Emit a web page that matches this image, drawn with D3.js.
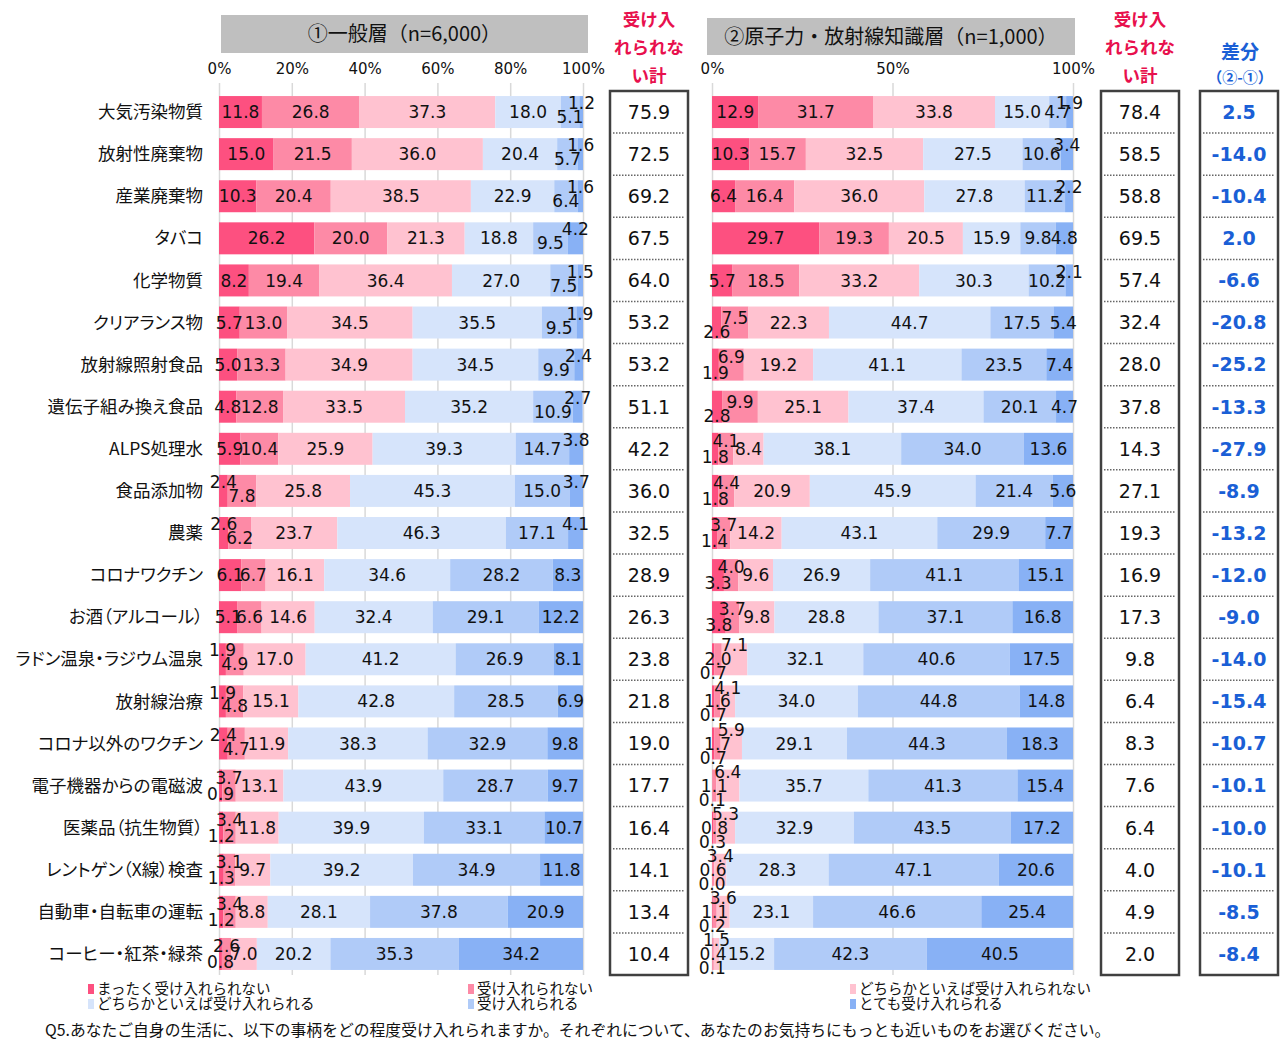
<!DOCTYPE html>
<html><head><meta charset="utf-8">
<script src="https://cdn.jsdelivr.net/npm/d3@7"></script>
<style>
body{margin:0;background:#fff;}
svg{display:block;}
.palt{font-feature-settings:"palt";}
</style></head>
<body>
<svg id="chart" width="1282" height="1042"></svg>
<script>
const categories = ["大気汚染物質","放射性廃棄物","産業廃棄物","タバコ","化学物質","クリアランス物","放射線照射食品","遺伝子組み換え食品","ALPS処理水","食品添加物","農薬","コロナワクチン","お酒（アルコール）","ラドン温泉・ラジウム温泉","放射線治療","コロナ以外のワクチン","電子機器からの電磁波","医薬品（抗生物質）","レントゲン（X線）検査","自動車・自転車の運転","コーヒー・紅茶・緑茶"];
const seriesNames = ["まったく受け入れられない","受け入れられない","どちらかといえば受け入れられない","どちらかといえば受け入れられる","受け入れられる","とても受け入れられる"];
const seriesColors = ["#fd5080","#fd8aa6","#ffc2d0","#d6e4fb","#b0cbf8","#88b1f5"];
const generalData = [
 [11.8,26.8,37.3,18.0,5.1,1.2],
 [15.0,21.5,36.0,20.4,5.7,1.6],
 [10.3,20.4,38.5,22.9,6.4,1.6],
 [26.2,20.0,21.3,18.8,9.5,4.2],
 [8.2,19.4,36.4,27.0,7.5,1.5],
 [5.7,13.0,34.5,35.5,9.5,1.9],
 [5.0,13.3,34.9,34.5,9.9,2.4],
 [4.8,12.8,33.5,35.2,10.9,2.7],
 [5.9,10.4,25.9,39.3,14.7,3.8],
 [2.4,7.8,25.8,45.3,15.0,3.7],
 [2.6,6.2,23.7,46.3,17.1,4.1],
 [6.1,6.7,16.1,34.6,28.2,8.3],
 [5.1,6.6,14.6,32.4,29.1,12.2],
 [1.9,4.9,17.0,41.2,26.9,8.1],
 [1.9,4.8,15.1,42.8,28.5,6.9],
 [2.4,4.7,11.9,38.3,32.9,9.8],
 [0.9,3.7,13.1,43.9,28.7,9.7],
 [1.2,3.4,11.8,39.9,33.1,10.7],
 [1.3,3.1,9.7,39.2,34.9,11.8],
 [1.2,3.4,8.8,28.1,37.8,20.9],
 [0.8,2.6,7.0,20.2,35.3,34.2]
];
const knowledgeData = [
 [12.9,31.7,33.8,15.0,4.7,1.9],
 [10.3,15.7,32.5,27.5,10.6,3.4],
 [6.4,16.4,36.0,27.8,11.2,2.2],
 [29.7,19.3,20.5,15.9,9.8,4.8],
 [5.7,18.5,33.2,30.3,10.2,2.1],
 [2.6,7.5,22.3,44.7,17.5,5.4],
 [1.9,6.9,19.2,41.1,23.5,7.4],
 [2.8,9.9,25.1,37.4,20.1,4.7],
 [1.8,4.1,8.4,38.1,34.0,13.6],
 [1.8,4.4,20.9,45.9,21.4,5.6],
 [1.4,3.7,14.2,43.1,29.9,7.7],
 [3.3,4.0,9.6,26.9,41.1,15.1],
 [3.8,3.7,9.8,28.8,37.1,16.8],
 [0.7,2.0,7.1,32.1,40.6,17.5],
 [0.7,1.6,4.1,34.0,44.8,14.8],
 [0.7,1.7,5.9,29.1,44.3,18.3],
 [0.1,1.1,6.4,35.7,41.3,15.4],
 [0.3,0.8,5.3,32.9,43.5,17.2],
 [0.0,0.6,3.4,28.3,47.1,20.6],
 [0.2,1.1,3.6,23.1,46.6,25.4],
 [0.1,0.4,1.5,15.2,42.3,40.5]
];
const generalTotals = [75.9,72.5,69.2,67.5,64.0,53.2,53.2,51.1,42.2,36.0,32.5,28.9,26.3,23.8,21.8,19.0,17.7,16.4,14.1,13.4,10.4];
const knowledgeTotals = [78.4,58.5,58.8,69.5,57.4,32.4,28.0,37.8,14.3,27.1,19.3,16.9,17.3,9.8,6.4,8.3,7.6,6.4,4.0,4.9,2.0];
const diffs = [2.5,-14.0,-10.4,2.0,-6.6,-20.8,-25.2,-13.3,-27.9,-8.9,-13.2,-12.0,-9.0,-14.0,-15.4,-10.7,-10.1,-10.0,-10.1,-8.5,-8.4];
const generalTicks = [0,20,40,60,80,100];
const knowledgeTicks = [0,50,100];
const panelTitles = ["①一般層（n=6,000）","②原子力・放射線知識層（n=1,000）"];

const svg = d3.select("#chart");
const NUM = "'DejaVu Sans', 'Noto Sans CJK JP', sans-serif";
const JP = "'Noto Sans CJK JP', sans-serif";
const yTop = 91, yBottom = 975;
const y = d3.scaleBand().domain(categories).range([yTop, yBottom]).paddingInner(0.24).paddingOuter(0.12);

// category labels
svg.append("g").selectAll("text").data(categories).join("text")
  .attr("class", "palt")
  .attr("x", 203).attr("y", d => y(d) + y.bandwidth()/2).attr("dy", "0.35em")
  .attr("text-anchor", "end").style("font-family", JP).style("font-size", "17.5px").attr("fill", "#111")
  .text(d => d);

function labelDy(vals, cfg) {
  const n = vals.length;
  const dy = vals.map(() => 0);
  const narrow = vals.map(v => v < 4.5);
  // extend left-side runs of tiny segments into the next small segment
  for (let i = 1; i < 3; i++) {
    if (!narrow[i] && narrow[i - 1] && vals[i] < cfg.extendLeft) narrow[i] = true;
  }
  let i = 0;
  while (i < n) {
    if (!narrow[i]) { i++; continue; }
    let j = i;
    while (j + 1 < n && narrow[j + 1] && ((j + 1 < 3) === (i < 3))) j++;
    const len = j - i + 1;
    const left = i < 3;
    if (len === 1) {
      const dir = left ? cfg.leftSingleDir : -1;
      dy[i] = dir * 9;
      const nb = left ? i + 1 : i - 1;
      const crowd = left ? cfg.crowdLeft : cfg.crowdRight;
      if (nb >= 0 && nb < n && !narrow[nb] && vals[nb] < crowd) dy[nb] = -dir * 5;
    } else if (len === 2) {
      dy[j] = -8; dy[i] = 8;
    } else {
      dy[j] = -14; dy[i] = 14;
      for (let k = i + 1; k < j; k++) dy[k] = 0;
    }
    i = j + 1;
  }
  return dy;
}

function drawPanel(data, x0, x1, ticks, title, box, cfg) {
  const x = d3.scaleLinear().domain([0, 100]).range([x0, x1]);
  svg.append("rect").attr("x", box[0]).attr("y", box[1]).attr("width", box[2] - box[0]).attr("height", box[3] - box[1]).attr("fill", "#bfbfbf");
  svg.append("text").attr("x", (box[0] + box[2]) / 2).attr("y", (box[1] + box[3]) / 2).attr("dy", "0.35em")
    .attr("text-anchor", "middle").style("font-family", JP).style("font-size", "20px").attr("fill", "#111").text(title);
  const ax = svg.append("g").attr("transform", `translate(0,83)`)
    .call(d3.axisTop(x).tickValues(ticks).tickFormat(d => d + "%").tickSize(-(yBottom - 83)).tickPadding(9));
  ax.select(".domain").remove();
  ax.selectAll(".tick line").attr("stroke", "#d9d9d9").attr("stroke-width", 1.5);
  ax.selectAll(".tick text").style("font-family", NUM).style("font-size", "15px").attr("fill", "#111");
  const rows = svg.append("g").selectAll("g").data(data).join("g")
    .attr("transform", (d, i) => `translate(0,${y(categories[i])})`);
  rows.each(function(vals) {
    const g = d3.select(this);
    const starts = d3.cumsum([0].concat(vals)).slice(0, vals.length);
    const segs = vals.map((v, k) => ({v, k, s: starts[k]}));
    g.selectAll("rect").data(segs).join("rect")
      .attr("x", d => x(d.s)).attr("y", 0)
      .attr("width", d => Math.max(0, x(Math.min(100, d.s + d.v)) - x(d.s)))
      .attr("height", y.bandwidth()).attr("fill", d => seriesColors[d.k]);
    const dys = labelDy(vals, cfg);
    g.selectAll("text").data(segs).join("text")
      .attr("x", d => x(d.s + d.v / 2)).attr("y", d => y.bandwidth() / 2 + dys[d.k]).attr("dy", "0.36em")
      .attr("text-anchor", "middle").style("font-family", NUM).style("font-size", "17px").attr("fill", "#111")
      .text(d => d.v.toFixed(1));
  });
}

drawPanel(generalData, 219, 583, generalTicks, panelTitles[0], [221, 15, 588, 53],
  {extendLeft: 0, crowdLeft: 11, crowdRight: 11, leftSingleDir: -1});
drawPanel(knowledgeData, 712, 1073, knowledgeTicks, panelTitles[1], [707, 18, 1075, 55],
  {extendLeft: 7.5, crowdLeft: 11, crowdRight: 0, leftSingleDir: 1});

function drawColumn(vals, x0, x1, fmt, color, weight) {
  const g = svg.append("g");
  g.append("rect").attr("x", x0).attr("y", yTop).attr("width", x1 - x0).attr("height", yBottom - yTop)
    .attr("fill", "#fff").attr("stroke", "#404040").attr("stroke-width", 2.5);
  const step = y.step();
  g.selectAll("line").data(d3.range(1, categories.length)).join("line")
    .attr("x1", x0 + 3).attr("x2", x1 - 3)
    .attr("y1", d => yTop + d * step).attr("y2", d => yTop + d * step)
    .attr("stroke", "#666").attr("stroke-width", 1.5).attr("stroke-dasharray", "1.5,1.5");
  g.selectAll("text").data(vals).join("text")
    .attr("x", (x0 + x1) / 2).attr("y", (d, i) => y(categories[i]) + y.bandwidth() / 2).attr("dy", "0.36em")
    .attr("text-anchor", "middle").style("font-family", NUM).style("font-size", "19px")
    .style("font-weight", weight).attr("fill", color).text(fmt);
}
drawColumn(generalTotals, 610, 688, d => d.toFixed(1), "#111", "normal");
drawColumn(knowledgeTotals, 1101, 1179, d => d.toFixed(1), "#111", "normal");
drawColumn(diffs, 1200, 1278, d => d.toFixed(1), "#1a5fd6", "bold");

const redHead = ["受け入", "れられな", "い計"];
[649, 1140].forEach(cx => {
  svg.append("g").selectAll("text").data(redHead).join("text")
    .attr("x", cx).attr("y", (d, i) => 20 + i * 28).attr("dy", "0.35em").attr("text-anchor", "middle")
    .style("font-family", JP).style("font-size", "17.5px").style("font-weight", "bold").attr("fill", "#e8104d").text(d => d);
});
svg.append("text").attr("x", 1240).attr("y", 52).attr("dy", "0.35em").attr("text-anchor", "middle")
  .style("font-family", JP).style("font-size", "19px").style("font-weight", "bold").attr("fill", "#1a5fd6").text("差分");
svg.append("text").attr("x", 1240).attr("y", 78).attr("dy", "0.35em").attr("text-anchor", "middle")
  .style("font-family", JP).style("font-size", "15px").style("font-weight", "bold").attr("fill", "#1a5fd6").text("（②-①）");

const legX = [88, 468, 850];
const leg = svg.append("g").selectAll("g").data(seriesNames).join("g")
  .attr("transform", (d, i) => `translate(${legX[i % 3]},${989 + Math.floor(i / 3) * 15})`);
leg.append("rect").attr("x", 0).attr("y", -5).attr("width", 6).attr("height", 10).attr("fill", (d, i) => seriesColors[i]);
leg.append("text").attr("x", 9).attr("y", 0).attr("dy", "0.35em")
  .style("font-family", JP).style("font-size", "14.5px").attr("fill", "#111").text(d => d);

svg.append("text").attr("x", 45).attr("y", 1030).attr("dy", "0.35em")
  .style("font-family", JP).style("font-size", "15.8px").attr("fill", "#111")
  .text("Q5.あなたご自身の生活に、以下の事柄をどの程度受け入れられますか。それぞれについて、あなたのお気持ちにもっとも近いものをお選びください。");
</script>
</body></html>
